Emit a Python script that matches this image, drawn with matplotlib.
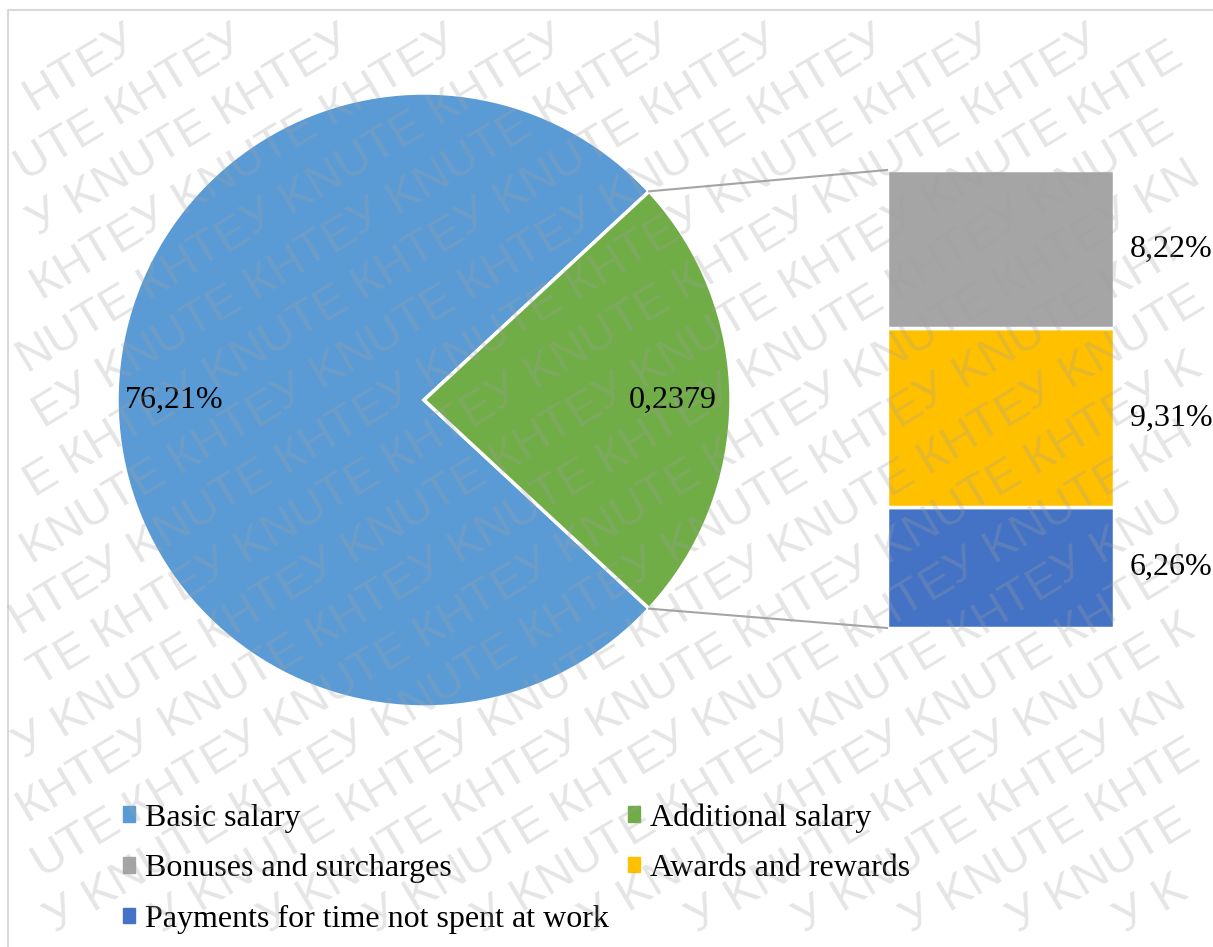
import numpy as np
import matplotlib
matplotlib.use("Agg")
import matplotlib.pyplot as plt
from matplotlib.patches import Patch

plt.rcParams['font.family'] = ['Liberation Serif', 'DejaVu Serif']

# main pie: basic vs additional salary (%)
pie_labels = ["Basic salary", "Additional salary"]
pie_vals = [76.21, 23.79]
pie_colors = ["#5B9BD5", "#70AD47"]

# breakdown of the additional salary, bottom to top
bar_labels = ["Payments for time not spent at work", "Awards and rewards", "Bonuses and surcharges"]
bar_vals = [6.26, 9.31, 8.22]
bar_colors = ["#4472C4", "#FFC000", "#A5A5A5"]

watermark = "КНТЕУ KNUTE "

W, H = 1213, 947
fig = plt.figure(figsize=(W / 100, H / 100), dpi=100)
ax = fig.add_axes([0, 0, 1, 1])

# pie, with the additional-salary slice centred on the right
cx, cy, r = 424, 547, 307
half = pie_vals[1] * 3.6 / 2
ax.pie(pie_vals, colors=pie_colors, startangle=half, radius=r, center=(cx, cy),
       wedgeprops=dict(edgecolor="white", linewidth=2.5))

ax.text(cx - 0.974 * r, cy, f"{pie_vals[0]:.2f}%".replace(".", ","), fontsize=23,
        ha="left", va="center")
ax.text(cx + 0.81 * r, cy, f"{pie_vals[1] / 100:.4f}".replace(".", ","), fontsize=23,
        ha="center", va="center")

# stacked bar for the breakdown
bar_x, bar_w, bar_bottom = 887, 227, 319
scale = 458 / sum(bar_vals)
bottoms = bar_bottom + np.concatenate([[0], np.cumsum(bar_vals)[:-1]]) * scale
heights = np.array(bar_vals) * scale
ax.bar(bar_x + bar_w / 2, heights, bottom=bottoms, width=bar_w, color=bar_colors,
       edgecolor="white", linewidth=2.5)
for v, b, h in zip(bar_vals, bottoms, heights):
    ax.text(bar_x + bar_w + 16, b + h / 2, f"{v:.2f}%".replace(".", ","), fontsize=23,
            ha="left", va="center")

# connector lines from the slice edges to the bar corners
a = np.radians(half)
bar_top = bar_bottom + heights.sum()
ax.plot([cx + r * np.cos(a), bar_x], [cy + r * np.sin(a), bar_top], color="#A5A5A5", lw=1.5)
ax.plot([cx + r * np.cos(a), bar_x], [cy - r * np.sin(a), bar_bottom], color="#A5A5A5", lw=1.5)

# chart border
ax.plot([8, 8, W + 5], [-5, H - 10, H - 10], color="#D9D9D9", lw=1.5)

ax.set_xlim(0, W)
ax.set_ylim(0, H)
ax.axis("off")

# legend, filled column-wise
handles = [Patch(color=pie_colors[0], label=pie_labels[0]),
           Patch(color=bar_colors[2], label=bar_labels[2]),
           Patch(color=bar_colors[0], label=bar_labels[0]),
           Patch(color=pie_colors[1], label=pie_labels[1]),
           Patch(color=bar_colors[1], label=bar_labels[1])]
ax.legend(handles=handles, ncol=2, loc="upper left", bbox_to_anchor=(123 / W, 1 - 803 / H),
          bbox_transform=fig.transFigure, frameon=False, fontsize=23, borderpad=0,
          handlelength=0.375, handleheight=0.375, handletextpad=0.31, labelspacing=0.67,
          columnspacing=0.6, borderaxespad=0)

# diagonal watermark, laid out letter by letter so nothing hangs over the edge
wm_font = dict(fontsize=34, family=["Liberation Sans", "DejaVu Sans"])
renderer = fig.canvas.get_renderer()

def text_width(s):
    t = fig.text(0, 0, s, **wm_font)
    w = t.get_window_extent(renderer).width
    t.remove()
    return w

w_ref = text_width("H")
offsets = [text_width(watermark[:i] + "H") - w_ref for i in range(len(watermark))]
period = text_width(watermark + "H") - w_ref

theta = 31
u = np.array([np.cos(np.radians(theta)), np.sin(np.radians(theta))])
n = np.array([-u[1], u[0]])
step = 214                      # horizontal repeat of the pattern
row_gap = step * u[1] / 2
row_shift = step * u[0] / 2
origin = np.array([W / 2, H / 2])

marks = []
for k in range(-17, 18):
    o = (-row_shift * k) % period
    for m in range(-5, 6):
        for i, ch in enumerate(watermark):
            if ch == " ":
                continue
            t = o + m * period + offsets[i]
            p = origin + k * row_gap * n + t * u
            if not (-60 < p[0] < W + 10 and -60 < p[1] < H + 10):
                continue
            marks.append(fig.text(p[0] / W, p[1] / H, ch, rotation=theta,
                                  rotation_mode="anchor", ha="left", va="baseline",
                                  color="#A0A0A0", alpha=0.27, zorder=10, **wm_font))

for t in marks:
    bb = t.get_window_extent(renderer)
    if bb.x0 < 0 or bb.y0 < 0 or bb.x1 > W or bb.y1 > H:
        t.remove()

fig.savefig("out.png", dpi=100)
